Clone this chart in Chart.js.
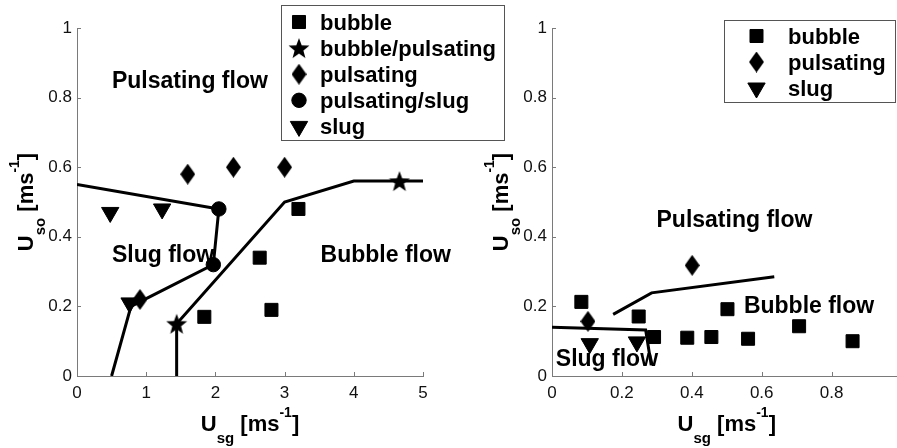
<!DOCTYPE html>
<html>
<head>
<meta charset="utf-8">
<script src="https://cdn.jsdelivr.net/npm/chart.js@4.4.1/dist/chart.umd.min.js"></script>
<style>
  html, body { margin: 0; padding: 0; background: #fff; overflow: hidden; width: 897px; height: 448px; }
  #leftChart { position: absolute; left: 0; top: 0; }
  #rightChart { position: absolute; left: 450px; top: 0; }
</style>
</head>
<body>
<canvas id="leftChart" width="520" height="448"></canvas>
<canvas id="rightChart" width="470" height="448"></canvas>
<script>
// ─── Data: left panel ────────────────────────────────────
const leftXTicks = [0, 1, 2, 3, 4, 5];
const yTicks = [0, 0.2, 0.4, 0.6, 0.8, 1];

const leftBubbleX = [1.84, 2.64, 2.81, 3.2];
const leftBubbleY = [0.17, 0.34, 0.19, 0.48];
const leftBubblePulsX = [1.44, 4.66];
const leftBubblePulsY = [0.15, 0.56];
const leftPulsX = [1.6, 2.26, 3.0, 0.91];
const leftPulsY = [0.58, 0.60, 0.60, 0.22];
const leftPulsSlugX = [2.05, 1.97];
const leftPulsSlugY = [0.48, 0.32];
const leftSlugX = [0.48, 1.23, 0.76];
const leftSlugY = [0.47, 0.48, 0.21];

const leftSlugLineX = [0, 2.05, 1.97, 0.78, 0.5];
const leftSlugLineY = [0.55, 0.48, 0.32, 0.2, 0];
const leftBubbleLineX = [1.44, 1.44, 3.0, 4.0, 5.0];
const leftBubbleLineY = [0, 0.15, 0.5, 0.56, 0.56];

const leftLabels = ['Pulsating flow', 'Slug flow', 'Bubble flow'];
const leftLabelX = [0.505, 0.505, 3.52];
const leftLabelY = [0.827, 0.328, 0.328];

// ─── Data: right panel ───────────────────────────────────
const rightXTicks = [0, 0.2, 0.4, 0.6, 0.8, 1];

const rightBubbleX = [0.084, 0.248, 0.292, 0.387, 0.456, 0.502, 0.561, 0.707, 0.86];
const rightBubbleY = [0.213, 0.171, 0.112, 0.11, 0.112, 0.192, 0.107, 0.143, 0.1];
const rightPulsX = [0.103, 0.401];
const rightPulsY = [0.157, 0.318];
const rightSlugX = [0.108, 0.243];
const rightSlugY = [0.093, 0.098];

const rightSlugLineX = [0, 0.268, 0.284];
const rightSlugLineY = [0.14, 0.132, 0.031];
const rightPulsLineX = [0.175, 0.285, 0.636];
const rightPulsLineY = [0.177, 0.239, 0.285];

const rightLabels = ['Pulsating flow', 'Bubble flow', 'Slug flow'];
const rightLabelX = [0.299, 0.549, 0.011];
const rightLabelY = [0.429, 0.18, 0.03];

// ─── Look ────────────────────────────────────────────────
const FONT = '"Liberation Sans", Arial, Helvetica, sans-serif';
const AXIS_GREY = '#7a7a7a';

function pts(xs, ys) {
  return xs.map((x, i) => ({ x: x, y: ys[i] }));
}

function makeStar(size) {
  const c = document.createElement('canvas');
  c.width = c.height = size;
  const g = c.getContext('2d');
  const R = size / 2, r = R * 0.42;
  g.beginPath();
  for (let i = 0; i < 10; i++) {
    const a = -Math.PI / 2 + i * Math.PI / 5;
    const rr = i % 2 ? r : R;
    g.lineTo(R + rr * Math.cos(a), R + 1 + rr * Math.sin(a));
  }
  g.closePath();
  g.fillStyle = '#000';
  g.fill();
  return c;
}

function makeDiamond(w, h) {
  const c = document.createElement('canvas');
  c.width = w; c.height = h;
  const g = c.getContext('2d');
  g.beginPath();
  g.moveTo(w / 2, 0);
  g.lineTo(w, h / 2);
  g.lineTo(w / 2, h);
  g.lineTo(0, h / 2);
  g.closePath();
  g.fillStyle = '#000';
  g.fill();
  return c;
}

const STAR = makeStar(22);
const DIAMOND = makeDiamond(15, 21);

const MARKERS = {
  bubble: { pointStyle: 'rect', radius: 9.2, rotation: 0 },
  bubblePuls: { pointStyle: STAR, radius: 10, rotation: 0 },
  puls: { pointStyle: DIAMOND, radius: 10, rotation: 0 },
  pulsSlug: { pointStyle: 'circle', radius: 7.2, rotation: 0 },
  slug: { pointStyle: 'triangle', radius: 10, rotation: 180 },
};

function markerSet(label, kind, xs, ys) {
  const m = MARKERS[kind];
  return {
    label: label,
    data: pts(xs, ys),
    showLine: false,
    pointStyle: m.pointStyle,
    pointRadius: m.radius,
    pointRotation: m.rotation,
    backgroundColor: '#000',
    borderColor: '#000',
    borderWidth: 1,
    legendKind: kind,
  };
}

function lineSet(xs, ys) {
  return {
    data: pts(xs, ys),
    showLine: true,
    pointRadius: 0,
    borderColor: '#000',
    borderWidth: 3,
    fill: false,
    tension: 0,
  };
}

// rich text: parts = [text, size, dy]
function drawRich(ctx, parts, x, y, align) {
  let total = 0;
  parts.forEach(p => {
    ctx.font = 'bold ' + p[1] + 'px ' + FONT;
    total += ctx.measureText(p[0]).width;
  });
  let cx = align === 'center' ? x - total / 2 : x;
  ctx.textAlign = 'left';
  ctx.textBaseline = 'alphabetic';
  parts.forEach(p => {
    ctx.font = 'bold ' + p[1] + 'px ' + FONT;
    ctx.fillText(p[0], cx, y + p[2]);
    cx += ctx.measureText(p[0]).width;
  });
}

const decorPlugin = {
  id: 'flowDecor',
  afterDraw(chart, args, opts) {
    const { ctx, chartArea } = chart;
    const xs = chart.scales.x, ys = chart.scales.y;
    ctx.save();

    // inward tick marks
    ctx.strokeStyle = AXIS_GREY;
    ctx.lineWidth = 1;
    ctx.beginPath();
    xs.ticks.forEach(t => {
      const px = Math.round(xs.getPixelForValue(t.value)) + 0.5;
      ctx.moveTo(px, chartArea.bottom);
      ctx.lineTo(px, chartArea.bottom - 4);
    });
    ys.ticks.forEach(t => {
      const py = Math.round(ys.getPixelForValue(t.value)) + 0.5;
      ctx.moveTo(chartArea.left, py);
      ctx.lineTo(chartArea.left + 4, py);
    });
    ctx.stroke();

    // region labels
    ctx.fillStyle = '#000';
    ctx.font = 'bold 23px ' + FONT;
    ctx.textAlign = 'left';
    ctx.textBaseline = 'alphabetic';
    opts.texts.forEach((t, i) => {
      ctx.fillText(t, xs.getPixelForValue(opts.textX[i]), ys.getPixelForValue(opts.textY[i]));
    });

    // axis titles
    const cxm = (chartArea.left + chartArea.right) / 2;
    drawRich(ctx, [['U', 22, 0], ['sg', 15, 12], [' [ms', 22, 0], ['-1', 14, -14], [']', 22, 0]],
      cxm, chartArea.bottom + 55, 'center');
    ctx.save();
    ctx.translate(chartArea.left - 44, (chartArea.top + chartArea.bottom) / 2);
    ctx.rotate(-Math.PI / 2);
    drawRich(ctx, [['U', 22, 0], ['so', 15, 12], [' [ms', 22, 0], ['-1', 14, -14], [']', 22, 0]],
      0, 0, 'center');
    ctx.restore();

    // legend box
    const L = opts.legend;
    ctx.fillStyle = '#fff';
    ctx.fillRect(L.x, L.y, L.w, L.h);
    ctx.strokeStyle = '#555';
    ctx.lineWidth = 1;
    ctx.strokeRect(L.x + 0.5, L.y + 0.5, L.w, L.h);
    const items = chart.data.datasets.filter(d => d.legendKind);
    items.forEach((d, i) => {
      const rowY = L.rowY + i * L.step;
      const m = MARKERS[d.legendKind];
      ctx.fillStyle = '#000';
      ctx.strokeStyle = '#000';
      ctx.lineWidth = 1;
      Chart.helpers.drawPoint(ctx, { pointStyle: m.pointStyle, radius: m.radius, rotation: m.rotation, borderWidth: 1 },
        L.markX, rowY);
      ctx.font = 'bold 22px ' + FONT;
      ctx.textAlign = 'left';
      ctx.textBaseline = 'alphabetic';
      ctx.fillText(d.label, L.textX, rowY + 7.5);
    });
    ctx.restore();
  }
};

function scaleOpts(min, max, step, fitW, fitH, isX) {
  return {
    type: 'linear',
    min: min,
    max: max,
    ticks: {
      stepSize: step,
      padding: isX ? 7 : 5,
      color: '#111',
      font: { family: FONT, size: 17 },
      callback: v => String(Number(v.toFixed(2))),
    },
    grid: { display: false, drawTicks: false },
    border: { display: true, color: AXIS_GREY, width: 1 },
    afterFit(s) {
      if (isX) s.height = fitH; else s.width = fitW;
    },
  };
}

function buildChart(id, datasets, xMax, xStep, yAxisW, padRight, decor) {
  return new Chart(document.getElementById(id), {
    type: 'scatter',
    data: { datasets: datasets },
    options: {
      responsive: false,
      animation: false,
      events: [],
      layout: { padding: { top: 28, right: padRight, left: 0, bottom: 0 } },
      scales: {
        x: scaleOpts(0, xMax, xStep, 0, 72, true),
        y: scaleOpts(0, 1, 0.2, yAxisW, 0, false),
      },
      plugins: {
        legend: { display: false },
        tooltip: { enabled: false },
        flowDecor: decor,
      },
    },
    plugins: [decorPlugin],
  });
}

buildChart('leftChart', [
  lineSet(leftSlugLineX, leftSlugLineY),
  lineSet(leftBubbleLineX, leftBubbleLineY),
  markerSet('bubble', 'bubble', leftBubbleX, leftBubbleY),
  markerSet('bubble/pulsating', 'bubblePuls', leftBubblePulsX, leftBubblePulsY),
  markerSet('pulsating', 'puls', leftPulsX, leftPulsY),
  markerSet('pulsating/slug', 'pulsSlug', leftPulsSlugX, leftPulsSlugY),
  markerSet('slug', 'slug', leftSlugX, leftSlugY),
], 5, 1, 77, 97, {
  texts: leftLabels, textX: leftLabelX, textY: leftLabelY,
  legend: { x: 281, y: 5, w: 223, h: 135, markX: 299, textX: 320, rowY: 22, step: 26.1 },
});

buildChart('rightChart', [
  lineSet(rightSlugLineX, rightSlugLineY),
  lineSet(rightPulsLineX, rightPulsLineY),
  markerSet('bubble', 'bubble', rightBubbleX, rightBubbleY),
  markerSet('pulsating', 'puls', rightPulsX, rightPulsY),
  markerSet('slug', 'slug', rightSlugX, rightSlugY),
], 1, 0.2, 102, 18.5, {
  texts: rightLabels, textX: rightLabelX, textY: rightLabelY,
  legend: { x: 274, y: 20, w: 171, h: 82, markX: 306.5, textX: 338, rowY: 36, step: 26 },
});
</script>
</body>
</html>
